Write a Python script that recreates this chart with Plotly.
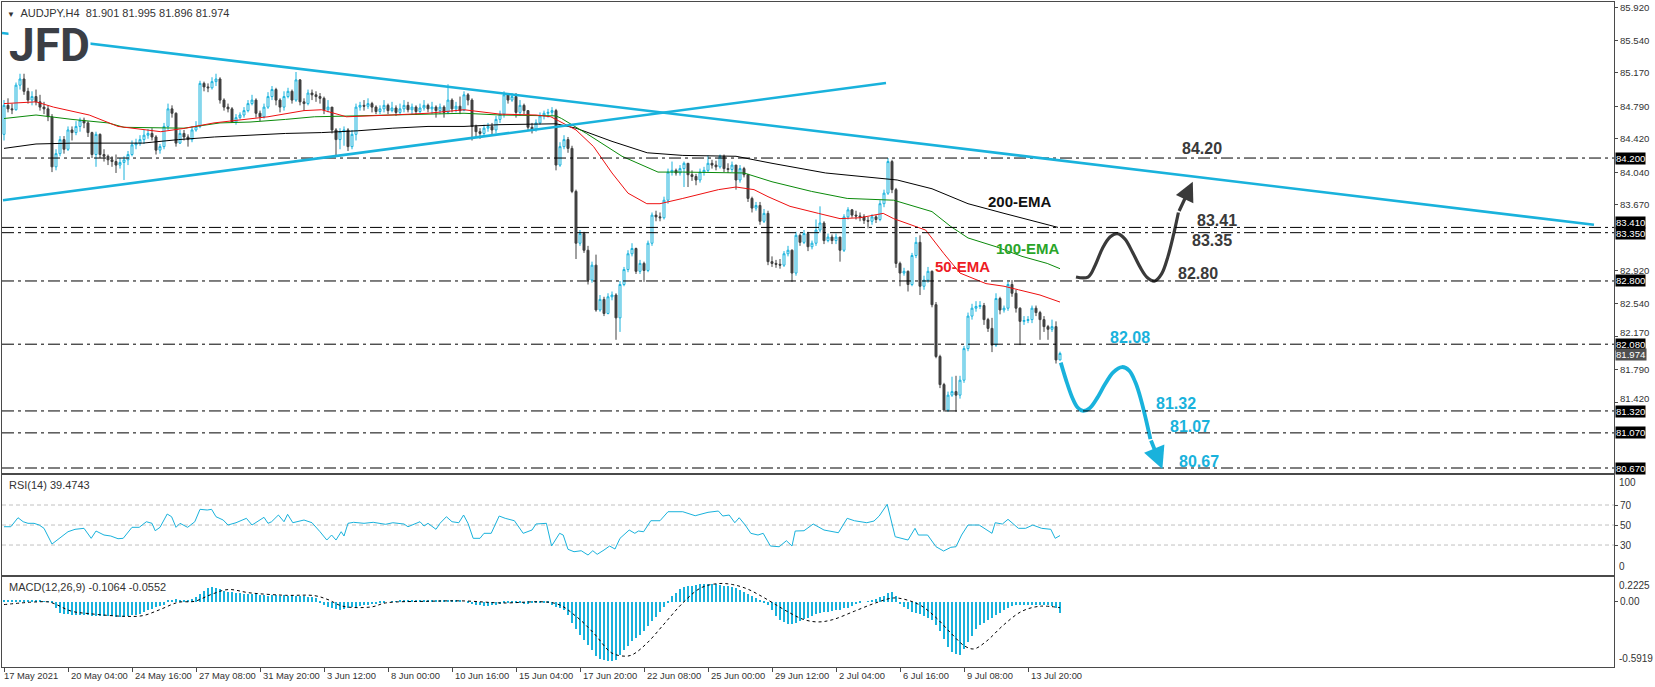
import plotly.graph_objects as go

# ---------------- data ----------------
first_open = 84.47
close = [
 84.80, 84.76, 84.75, 85.03, 85.10, 84.96, 84.86, 84.90, 84.84, 84.78,
 84.76, 84.67, 84.10, 84.25, 84.41, 84.30, 84.52, 84.49, 84.56, 84.63,
 84.60, 84.49, 84.24, 84.47, 84.24, 84.22, 84.18, 84.16, 84.12, 84.15,
 84.18, 84.24, 84.35, 84.37, 84.41, 84.46, 84.48, 84.44, 84.29, 84.33,
 84.56, 84.76, 84.71, 84.37, 84.48, 84.44, 84.41, 84.52, 84.56, 85.05,
 85.01, 85.00, 85.07, 85.10, 84.86, 84.78, 84.76, 84.61, 84.66, 84.69,
 84.74, 84.82, 84.86, 84.71, 84.67, 84.78, 84.90, 84.98, 84.86, 84.78,
 84.90, 84.96, 84.86, 85.09, 84.84, 84.82, 84.94, 84.92, 84.90, 84.88,
 84.75, 84.78, 84.52, 84.41, 84.50, 84.52, 84.33, 84.47, 84.78, 84.80,
 84.79, 84.82, 84.78, 84.73, 84.76, 84.80, 84.74, 84.77, 84.72, 84.76,
 84.80, 84.75, 84.78, 84.73, 84.77, 84.80, 84.76, 84.78, 84.74, 84.78,
 84.72, 84.86, 84.76, 84.79, 84.74, 84.92, 84.86, 84.56, 84.50, 84.48,
 84.54, 84.56, 84.52, 84.64, 84.70, 84.92, 84.86, 84.90, 84.72, 84.80,
 84.74, 84.55, 84.53, 84.60, 84.68, 84.71, 84.72, 84.74, 84.12, 84.33,
 84.41, 84.31, 83.82, 83.23, 83.34, 83.15, 82.81, 82.98, 82.47, 82.59,
 82.43, 82.62, 82.64, 82.38, 82.76, 82.93, 83.11, 83.17, 82.91, 83.00,
 82.92, 83.23, 83.55, 83.53, 83.52, 83.72, 84.04, 84.06, 84.03, 84.08,
 84.14, 84.01, 83.99, 83.95, 84.04, 84.06, 84.14, 84.12, 84.10, 84.22,
 84.08, 84.07, 84.12, 83.95, 84.08, 84.01, 83.74, 83.63, 83.66, 83.48,
 83.57, 83.02, 83.00, 82.99, 82.98, 83.11, 83.15, 82.89, 83.32, 83.24,
 83.34, 83.19, 83.23, 83.38, 83.46, 83.26, 83.30, 83.26, 83.30, 83.15,
 83.53, 83.61, 83.55, 83.54, 83.53, 83.49, 83.48, 83.53, 83.50, 83.68,
 83.80, 84.16, 83.84, 83.00, 82.89, 82.91, 82.76, 83.09, 83.24, 82.74,
 82.81, 82.91, 82.53, 81.94, 81.62, 81.33, 81.50, 81.54, 81.50, 81.67,
 82.03, 82.40, 82.49, 82.51, 82.52, 82.36, 82.26, 82.07, 82.60, 82.47,
 82.49, 82.76, 82.66, 82.49, 82.34, 82.35, 82.36, 82.49, 82.44, 82.36,
 82.28, 82.25, 82.28, 81.901, 81.974]
high = [
 84.86, 84.88, 84.82, 85.06, 85.16, 85.16, 85.00, 84.96, 84.98, 84.92,
 84.84, 84.80, 84.70, 84.30, 84.45, 84.45, 84.56, 84.56, 84.62, 84.66,
 84.66, 84.62, 84.50, 84.50, 84.48, 84.30, 84.24, 84.22, 84.24, 84.20,
 84.22, 84.28, 84.40, 84.42, 84.46, 84.52, 84.53, 84.54, 84.46, 84.36,
 84.60, 84.82, 84.80, 84.72, 84.52, 84.52, 84.47, 84.56, 84.62, 85.08,
 85.07, 85.05, 85.12, 85.16, 85.12, 84.88, 84.82, 84.78, 84.70, 84.72,
 84.78, 84.86, 84.92, 84.88, 84.74, 84.82, 84.95, 85.02, 85.00, 84.88,
 84.96, 85.00, 84.98, 85.18, 85.10, 84.88, 84.98, 84.98, 84.96, 84.94,
 84.90, 84.86, 84.78, 84.54, 84.54, 84.56, 84.54, 84.52, 84.82, 84.84,
 84.86, 84.88, 84.84, 84.80, 84.80, 84.86, 84.82, 84.84, 84.80, 84.82,
 84.86, 84.84, 84.82, 84.80, 84.82, 84.86, 84.82, 84.84, 84.80, 84.82,
 84.80, 85.04, 84.88, 84.84, 84.90, 84.96, 84.94, 84.88, 84.58, 84.54,
 84.58, 84.60, 84.60, 84.68, 84.74, 84.96, 84.94, 84.94, 84.94, 84.86,
 84.82, 84.74, 84.60, 84.64, 84.72, 84.74, 84.76, 84.78, 84.76, 84.38,
 84.46, 84.44, 84.34, 83.84, 83.38, 83.36, 83.20, 83.02, 83.10, 82.64,
 82.62, 82.66, 82.68, 82.66, 82.80, 82.96, 83.15, 83.23, 83.18, 83.04,
 83.02, 83.26, 83.58, 83.60, 83.58, 83.76, 84.08, 84.16, 84.08, 84.12,
 84.16, 84.12, 84.06, 84.02, 84.08, 84.10, 84.23, 84.18, 84.17, 84.24,
 84.24, 84.14, 84.16, 84.12, 84.12, 84.10, 84.02, 83.76, 83.70, 83.70,
 83.62, 83.60, 83.08, 83.04, 83.05, 83.14, 83.20, 83.16, 83.36, 83.34,
 83.38, 83.36, 83.26, 83.50, 83.65, 83.48, 83.34, 83.33, 83.34, 83.30,
 83.56, 83.64, 83.62, 83.60, 83.58, 83.56, 83.53, 83.56, 83.55, 83.72,
 83.84, 84.20, 84.18, 83.86, 83.02, 82.95, 82.92, 83.12, 83.30, 83.32,
 82.86, 82.96, 82.92, 82.56, 81.96, 81.64, 81.54, 81.71, 81.72, 81.72,
 82.06, 82.44, 82.54, 82.57, 82.57, 82.55, 82.38, 82.38, 82.66, 82.62,
 82.52, 82.79, 82.81, 82.70, 82.50, 82.40, 82.40, 82.52, 82.52, 82.46,
 82.40, 82.30, 82.36, 82.34, 81.995]
low = [
 84.40, 84.72, 84.70, 84.74, 84.98, 84.92, 84.82, 84.80, 84.80, 84.74,
 84.70, 84.62, 84.04, 84.06, 84.22, 84.25, 84.28, 84.40, 84.46, 84.50,
 84.54, 84.44, 84.20, 84.10, 84.20, 84.16, 84.12, 84.10, 84.03, 84.08,
 83.95, 84.12, 84.22, 84.30, 84.34, 84.36, 84.42, 84.40, 84.24, 84.25,
 84.30, 84.52, 84.66, 84.33, 84.36, 84.40, 84.33, 84.38, 84.50, 84.54,
 84.96, 84.95, 84.98, 85.02, 84.82, 84.74, 84.72, 84.60, 84.58, 84.64,
 84.66, 84.72, 84.80, 84.66, 84.62, 84.65, 84.76, 84.86, 84.80, 84.72,
 84.74, 84.88, 84.82, 84.84, 84.80, 84.74, 84.80, 84.86, 84.84, 84.82,
 84.70, 84.72, 84.48, 84.22, 84.30, 84.34, 84.28, 84.30, 84.40, 84.74,
 84.74, 84.76, 84.72, 84.70, 84.70, 84.72, 84.70, 84.72, 84.68, 84.70,
 84.72, 84.72, 84.70, 84.69, 84.71, 84.74, 84.72, 84.70, 84.66, 84.70,
 84.66, 84.70, 84.72, 84.72, 84.70, 84.74, 84.80, 84.40, 84.44, 84.42,
 84.44, 84.50, 84.46, 84.48, 84.60, 84.66, 84.82, 84.84, 84.66, 84.68,
 84.70, 84.52, 84.48, 84.50, 84.58, 84.64, 84.66, 84.68, 84.06, 84.10,
 84.30, 84.26, 83.80, 83.05, 83.20, 83.12, 82.76, 82.78, 82.45, 82.45,
 82.40, 82.42, 82.58, 82.13, 82.22, 82.74, 82.90, 83.08, 82.88, 82.88,
 82.79, 82.90, 83.20, 83.48, 83.48, 83.50, 83.68, 84.00, 84.00, 84.00,
 83.87, 83.87, 83.94, 83.89, 83.92, 84.00, 84.04, 84.08, 84.06, 84.08,
 84.04, 84.03, 84.04, 83.84, 83.92, 83.98, 83.70, 83.58, 83.60, 83.44,
 83.46, 82.98, 82.96, 82.95, 82.94, 82.96, 83.08, 82.79, 82.86, 83.20,
 83.22, 83.14, 83.16, 83.20, 83.35, 83.22, 83.24, 83.22, 83.22, 83.02,
 83.13, 83.50, 83.52, 83.50, 83.48, 83.45, 83.40, 83.44, 83.46, 83.48,
 83.64, 83.78, 83.80, 82.95, 82.74, 82.86, 82.68, 82.74, 83.06, 82.64,
 82.70, 82.78, 82.50, 81.92, 81.58, 81.31, 81.31, 81.48, 81.31, 81.46,
 81.64, 82.00, 82.36, 82.45, 82.48, 82.30, 82.22, 81.99, 82.05, 82.42,
 82.44, 82.46, 82.62, 82.44, 82.07, 82.30, 82.32, 82.32, 82.40, 82.13,
 82.22, 82.13, 82.22, 81.86, 81.896]

ema50_x = [0, 8, 12.4, 21.3, 28.5, 39.2, 45.4, 52.5, 66, 75, 79.4, 85.6, 97, 106, 115, 124, 133,
           136.7, 143, 147.4, 152, 156, 160.7, 164, 169.7, 178.6, 183, 187.5, 191, 196.5, 203.6,
           209, 214, 219.8, 222.4, 227.8, 230.4, 235, 239, 245.5, 250, 253.6, 259, 264]
ema50_y = [84.82, 84.84, 84.78, 84.69, 84.56, 84.50, 84.54, 84.60, 84.67, 84.74, 84.75, 84.67, 84.69,
           84.71, 84.75, 84.70, 84.69, 84.67, 84.52, 84.33, 84.03, 83.80, 83.68, 83.68, 83.74, 83.84,
           83.87, 83.84, 83.76, 83.65, 83.57, 83.51, 83.52, 83.57, 83.51, 83.42, 83.38, 83.11, 82.89,
           82.77, 82.74, 82.70, 82.64, 82.56]
ema100_x = [0, 8, 17, 26, 30, 39, 45, 54, 61.5, 70.4, 77.6, 88, 106, 115, 124, 138, 139.4, 145.6,
            154.5, 163.5, 169.7, 185, 192, 201.9, 210.8, 222.4, 232, 236.7, 241, 248, 254.5, 260.8, 264]
ema100_y = [84.65, 84.69, 84.64, 84.60, 84.55, 84.54, 84.54, 84.60, 84.61, 84.64, 84.67, 84.68, 84.70,
            84.71, 84.69, 84.68, 84.65, 84.48, 84.22, 84.04, 84.04, 84.03, 83.93, 83.82, 83.74, 83.72,
            83.59, 83.42, 83.29, 83.19, 83.08, 83.00, 82.94]
ema200_x = [0, 8, 17, 26, 34.7, 43.6, 52.6, 70.4, 79.4, 88.3, 97.2, 106, 115, 124, 138, 143, 152,
            160.8, 169.7, 183, 192, 205.4, 218.8, 223.3, 232, 241, 250, 263.5]
ema200_y = [84.31, 84.36, 84.37, 84.37, 84.37, 84.41, 84.44, 84.48, 84.49, 84.51, 84.54, 84.56, 84.56,
            84.58, 84.59, 84.54, 84.39, 84.26, 84.23, 84.22, 84.14, 84.03, 83.97, 83.95, 83.85, 83.68,
            83.57, 83.41]

rsi_x = [0, 1.7, 3.5, 4.8, 6, 7.5, 8.8, 10, 12, 13.3,
         14.6, 16, 17.75, 20, 21.8, 23, 25, 26.7, 28.5, 29.8,
         32, 33.8, 35.6, 37, 37.8, 39, 40.8, 41.9, 43, 44,
         45.9, 47.7, 49, 50.8, 51.9, 53, 54.8, 56, 58, 60.6,
         62, 63.3, 65, 66, 66.9, 68.6, 70, 70.9, 72.2, 75,
         77, 79, 80.7, 81.9, 83, 84.3, 85, 86, 87.4, 90,
         92.3, 95.4, 97.2, 100, 101, 104, 105, 106, 108, 109,
         110.6, 112, 113.7, 114.9, 116, 117.3, 119, 120, 121.8, 123.8,
         125.3, 127.6, 129.8, 132, 133, 135.6, 136.9, 138.9, 139.8, 141,
         142.5, 144.3, 146, 147.2, 148.3, 150, 151.4, 152.75, 154, 156.3,
         157.7, 158.6, 159.9, 161.7, 164, 166, 169.7, 172.8, 176, 178.6,
         179.7, 181.3, 182.7, 183.8, 185.3, 186.7, 188.5, 189.8, 191.6, 193.8,
         195.6, 197, 197.8, 200, 202.3, 205, 208.6, 210.8, 212.6, 215.7,
         217.5, 218.8, 220.8, 222.8, 226, 227.75, 228.6, 230.9, 233, 234.9,
         236.7, 238, 239.4, 241, 243.8, 247, 247.8, 249.6, 251, 253.6,
         255.4, 257.2, 259.4, 261.7, 262.8, 264]
rsi_y = [48.3, 48.3, 57.3, 53.3, 51.7, 51.7, 50, 46.7, 31, 35,
         38.3, 43.3, 45.7, 46.7, 36.7, 44, 40, 39, 36.3, 36.7,
         47.7, 47.7, 53.3, 51.7, 44.3, 47.7, 61, 58.3, 47.7, 51.7,
         47.7, 53.3, 65.7, 65, 65.7, 58.3, 55, 50, 52.3, 56.7,
         50, 53.3, 57.7, 51.7, 53.3, 60, 53.3, 60.7, 52.3, 55,
         52.3, 43.3, 35, 40, 35, 43.3, 39, 51.7, 52.7, 51.7,
         52.7, 50.7, 52.3, 51, 48.3, 53.3, 49, 51.7, 45.7, 51.7,
         58.3, 53.3, 52.3, 60, 51.7, 36.7, 36.7, 41.7, 41.7, 59,
         56.7, 54.3, 41.7, 45, 51, 51.7, 29, 41.7, 40, 25.7,
         23.3, 24.3, 20, 24.3, 20.7, 25, 29, 26, 36.7, 45,
         41.7, 44, 43.3, 54.3, 54.3, 63.3, 63.3, 59.3, 62.7, 64,
         59, 60, 52.3, 57.3, 50, 41.7, 40, 41.7, 29, 28.3,
         34.3, 29, 44, 44.3, 51, 45, 42.3, 56.7, 54.3, 52.3,
         54, 59, 70.7, 38.3, 35, 46.7, 40, 40, 28.3, 24,
         27.7, 28.3, 40, 50, 50, 41.7, 52.3, 51, 55.7, 46.7,
         46.7, 50, 46.7, 45.7, 36.7, 39.47]

macd_hist = [
 0.008, 0.010, 0.012, 0.014, 0.016, 0.015, 0.014, 0.012, 0.010, 0.008, 0.005, 0.002, -0.005,
 -0.06, -0.10, -0.11, -0.115, -0.12, -0.12, -0.125, -0.12, -0.125, -0.13, -0.13, -0.13, -0.13, -0.13,
 -0.133, -0.135, -0.135, -0.135, -0.13, -0.125, -0.12, -0.11, -0.095, -0.08, -0.065, -0.05, -0.04, -0.035,
 0.01, 0.015, 0.02, 0.015, 0.012, 0.015, 0.02,
 0.04, 0.07, 0.10, 0.12, 0.13, 0.125,
 0.11, 0.10, 0.09, 0.085, 0.08, 0.075, 0.07, 0.07, 0.065, 0.065, 0.06, 0.06, 0.055, 0.06, 0.06,
 0.055, 0.06, 0.055, 0.06, 0.055, 0.05, 0.05, 0.045, 0.04, 0.035,
 -0.01, -0.03, -0.05, -0.06, -0.07, -0.075, -0.07, -0.06, -0.05, -0.045, -0.04, -0.035, -0.03, -0.025, -0.02,
 -0.01, -0.005, 0.0, 0.005, 0.005, 0.01, 0.01, 0.008, 0.01, 0.012, 0.01, 0.008, 0.01, 0.012, 0.015,
 0.012, 0.015, 0.018, 0.015, 0.012, 0.008, 0.0, -0.01, -0.02, -0.03,
 -0.035, -0.04, -0.04, -0.035, -0.03, -0.02, -0.015, -0.01, -0.01, -0.012, -0.015, -0.02, -0.018, -0.015, -0.012,
 -0.01, -0.012, -0.015, -0.03, -0.045, -0.06, -0.075,
 -0.12, -0.19, -0.25, -0.30, -0.35, -0.39, -0.44, -0.49, -0.52, -0.53, -0.535, -0.54, -0.525, -0.48,
 -0.44, -0.40, -0.36, -0.33, -0.30, -0.27, -0.22, -0.18, -0.14, -0.09, -0.05, -0.005,
 0.05, 0.08, 0.11, 0.135, 0.14, 0.145, 0.15, 0.155, 0.16, 0.163, 0.16, 0.155, 0.15, 0.145, 0.14,
 0.13, 0.12, 0.105, 0.085, 0.07, 0.05, 0.03, 0.012,
 -0.005, -0.03, -0.08, -0.13, -0.165, -0.185, -0.2, -0.2, -0.19, -0.175, -0.16, -0.145, -0.13, -0.115,
 -0.105, -0.097, -0.09, -0.087, -0.08, -0.072, -0.062, -0.055, -0.04, -0.025,
 -0.01, 0.0, 0.005, 0.012, 0.025, 0.04, 0.055, 0.075, 0.085, 0.05,
 -0.02, -0.045, -0.07, -0.09, -0.1, -0.11, -0.13, -0.145, -0.165, -0.21, -0.27, -0.34, -0.41, -0.46,
 -0.475, -0.48, -0.43, -0.37, -0.31, -0.25, -0.21, -0.19, -0.17, -0.15, -0.125, -0.1, -0.075, -0.055,
 -0.04, -0.03, -0.027, -0.028, -0.03, -0.027, -0.03, -0.032, -0.034, -0.035, -0.038, -0.06, -0.1064]

signal_x = [0, 8, 11.5, 16.9, 21.3, 30, 34.7, 39, 43.6, 47.7, 51.7, 56, 61.5, 70.4, 77.6, 81, 84.7,
            91.9, 95.4, 106, 115, 124, 138, 143, 147.4, 151.9, 155.4, 157.2, 160.8, 165.25, 169.7,
            174.2, 178.6, 182.2, 185.8, 189.4, 192.9, 196.5, 200, 203.6, 207.2, 212.6, 217.9, 222.4,
            226, 229.5, 233.1, 236.7, 240.25, 242.5, 245.6, 250, 254.5, 259, 264]
signal_y = [-0.027, -0.003, -0.006, -0.087, -0.109, -0.133, -0.127, -0.072, -0.006, 0.003, 0.063,
            0.109, 0.079, 0.057, 0.054, 0.018, -0.042, -0.048, -0.012, 0.003, 0.006, -0.012, -0.018,
            -0.133, -0.284, -0.464, -0.494, -0.479, -0.374, -0.193, -0.012, 0.124, 0.163, 0.154,
            0.115, 0.048, -0.027, -0.103, -0.163, -0.184, -0.163, -0.087, -0.012, 0.033, 0.012,
            -0.042, -0.148, -0.284, -0.404, -0.428, -0.359, -0.208, -0.087, -0.042, -0.0552]

# drawn trendlines (bar index, price)
desc_line_x = [-0.5, 397.5]
desc_line_y = [85.624, 83.44]
asc_line_x = [-0.25, 220.5]
asc_line_y = [83.72, 85.054]

levels = [84.20, 83.41, 83.35, 82.80, 82.08, 81.32, 81.07, 80.67]
last_price = 81.974
price_ticks = [85.92, 85.54, 85.17, 84.79, 84.42, 84.04, 83.67, 82.92, 82.54, 82.17, 81.79, 81.42]

# projected paths
up_path_x = [268, 271, 272.8, 274.6, 276.5, 278.3, 280.2, 282.1, 284, 285.8, 287.7, 289.4, 291, 292.4, 293.6]
up_path_y = [82.845, 82.845, 82.98, 83.17, 83.30, 83.34, 83.28, 83.13, 82.96, 82.84, 82.80, 82.88, 83.08, 83.33, 83.58]
up_tip = (297.2, 83.93)
down_path_x = [264.2, 265.6, 267.0, 268.4, 269.8, 271.4, 273.2, 275.2, 277.3, 279.5, 281.3, 282.9, 284.3, 285.5, 286.6]
down_path_y = [81.87, 81.66, 81.48, 81.36, 81.32, 81.35, 81.46, 81.62, 81.76, 81.82, 81.78, 81.64, 81.44, 81.22, 81.00]
down_tip = (289.6, 80.66)

date_ticks = [0, 16, 32, 48, 64, 80, 96, 112, 128, 144, 160, 176, 192, 208, 224, 240, 256]
date_labels = ['17 May 2021', '20 May 04:00', '24 May 16:00', '27 May 08:00', '31 May 20:00',
               '3 Jun 12:00', '8 Jun 00:00', '10 Jun 16:00', '15 Jun 04:00', '17 Jun 20:00',
               '22 Jun 08:00', '25 Jun 00:00', '29 Jun 12:00', '2 Jul 04:00', '6 Jul 16:00',
               '9 Jul 08:00', '13 Jul 20:00']

# ---------------- styling ----------------
CYAN = '#19b2dc'
DARK = '#404040'
BORDER = '#4a4a4a'
TXT = '#333333'
FONT = 'Liberation Sans'

bars = list(range(len(close)))
opens = [first_open] + close[:-1]

fig = go.Figure()

fig.add_trace(go.Scatter(x=ema200_x, y=ema200_y, mode='lines', line=dict(color='#000000', width=1),
                         xaxis='x', yaxis='y', hoverinfo='skip', showlegend=False))
fig.add_trace(go.Scatter(x=ema100_x, y=ema100_y, mode='lines', line=dict(color='#0a8a0a', width=1),
                         xaxis='x', yaxis='y', hoverinfo='skip', showlegend=False))
fig.add_trace(go.Scatter(x=ema50_x, y=ema50_y, mode='lines', line=dict(color='#ee1010', width=1),
                         xaxis='x', yaxis='y', hoverinfo='skip', showlegend=False))

fig.add_trace(go.Candlestick(
    x=bars, open=opens, high=high, low=low, close=close,
    increasing=dict(line=dict(color=CYAN, width=1), fillcolor='white'),
    decreasing=dict(line=dict(color=DARK, width=1), fillcolor=DARK),
    whiskerwidth=0, xaxis='x', yaxis='y', hoverinfo='skip', showlegend=False))

# projected waves
fig.add_trace(go.Scatter(x=up_path_x, y=up_path_y, mode='lines',
                         line=dict(color='#3a3a3a', width=3.2, shape='spline'),
                         xaxis='x', yaxis='y', hoverinfo='skip', showlegend=False))
fig.add_trace(go.Scatter(x=down_path_x, y=down_path_y, mode='lines',
                         line=dict(color=CYAN, width=3.8, shape='spline'),
                         xaxis='x', yaxis='y', hoverinfo='skip', showlegend=False))

# RSI
fig.add_trace(go.Scatter(x=rsi_x, y=rsi_y, mode='lines', line=dict(color=CYAN, width=1),
                         xaxis='x2', yaxis='y2', hoverinfo='skip', showlegend=False))
# MACD
fig.add_trace(go.Bar(x=bars, y=macd_hist, width=0.5, marker=dict(color=CYAN, line=dict(width=0)),
                     xaxis='x3', yaxis='y3', hoverinfo='skip', showlegend=False))
fig.add_trace(go.Scatter(x=signal_x, y=signal_y, mode='lines',
                         line=dict(color='#000000', width=1, dash='dot', shape='spline'),
                         xaxis='x3', yaxis='y3', hoverinfo='skip', showlegend=False))

shapes = []
for lv in levels:
    shapes.append(dict(type='line', xref='x domain', x0=0, x1=1, yref='y', y0=lv, y1=lv,
                       line=dict(color='#000000', width=1, dash='12px,4px,3px,4px'), layer='above'))
shapes.append(dict(type='line', xref='x', yref='y', x0=desc_line_x[0], x1=desc_line_x[1],
                   y0=desc_line_y[0], y1=desc_line_y[1], line=dict(color=CYAN, width=2.6)))
shapes.append(dict(type='line', xref='x', yref='y', x0=asc_line_x[0], x1=asc_line_x[1],
                   y0=asc_line_y[0], y1=asc_line_y[1], line=dict(color=CYAN, width=2.6)))
for lv in [70, 50, 30]:
    shapes.append(dict(type='line', xref='x2 domain', x0=0, x1=1, yref='y2', y0=lv, y1=lv,
                       line=dict(color='#c0c0c0', width=1, dash='4px,3px'), layer='below'))

ann = []
# title + logo
ann.append(dict(xref='paper', yref='paper', x=0, y=1, xanchor='left', yanchor='top', xshift=3, yshift=-3,
                text='<span style="font-size:8px">▼</span>  AUDJPY,H4  81.901 81.995 81.896 81.974',
                showarrow=False, font=dict(family=FONT, size=11, color=TXT)))
ann.append(dict(xref='paper', yref='paper', x=0, y=1, xanchor='left', yanchor='top', xshift=6, yshift=-15,
                text='<b>JFD</b>', showarrow=False, bgcolor='white', borderpad=0,
                font=dict(family='Roboto', size=46, color='#3b3e45')))
# right-axis price labels (nudged where they sit next to a level box)
tick_nudge = {82.17: 4, 81.42: 4}
for v in price_ticks:
    ann.append(dict(xref='paper', x=1, xanchor='left', xshift=4, yref='y', y=v, yanchor='middle',
                    yshift=tick_nudge.get(v, 0), text='%.3f' % v, showarrow=False,
                    font=dict(family=FONT, size=9.6, color=TXT)))
# right axis level boxes (small shifts keep the stacked boxes from covering each other)
box_shift = {84.20: 0, 83.41: 5, 83.35: -1, 82.80: 0, 82.08: 0, 81.32: -1, 81.07: 0, 80.67: 0}
for lv in levels:
    ann.append(dict(xref='paper', x=1, xanchor='left', xshift=1, yref='y', y=lv, yanchor='middle',
                    yshift=box_shift[lv], text='%.3f' % lv, showarrow=False, bgcolor='#000000',
                    borderpad=0, font=dict(family=FONT, size=9.6, color='white')))
ann.append(dict(xref='paper', x=1, xanchor='left', xshift=1, yref='y', y=last_price, yanchor='middle',
                yshift=-1, text='%.3f' % last_price, showarrow=False, bgcolor='#505050', borderpad=0,
                font=dict(family=FONT, size=9.6, color='white')))
# level text labels
dark_lbl = {84.20: (299.5, 84.31), 83.41: (303.3, 83.494), 83.35: (302, 83.266), 82.80: (298.5, 82.89)}
cyan_lbl = {82.08: (281.5, 82.16), 81.32: (293, 81.41), 81.07: (296.5, 81.14), 80.67: (298.8, 80.74)}
for lv, (bx, by) in dark_lbl.items():
    ann.append(dict(xref='x', yref='y', x=bx, y=by, text='<b>%.2f</b>' % lv, showarrow=False,
                    font=dict(family=FONT, size=16, color='#3a3a3a')))
for lv, (bx, by) in cyan_lbl.items():
    ann.append(dict(xref='x', yref='y', x=bx, y=by, text='<b>%.2f</b>' % lv, showarrow=False,
                    font=dict(family=FONT, size=16, color=CYAN)))
# EMA labels
ann.append(dict(xref='x', yref='y', x=254, y=83.70, text='<b>200-EMA</b>', showarrow=False,
                font=dict(family=FONT, size=15, color='#111111')))
ann.append(dict(xref='x', yref='y', x=256, y=83.175, text='<b>100-EMA</b>', showarrow=False,
                font=dict(family=FONT, size=15, color='#2aa52a')))
ann.append(dict(xref='x', yref='y', x=239.5, y=82.97, text='<b>50-EMA</b>', showarrow=False,
                font=dict(family=FONT, size=15, color='#ee1c24')))
# arrow heads
ann.append(dict(xref='x', yref='y', axref='x', ayref='y', x=up_tip[0], y=up_tip[1],
                ax=up_path_x[-1], ay=up_path_y[-1], showarrow=True, arrowhead=2, arrowsize=1.2,
                arrowwidth=3.2, arrowcolor='#3a3a3a', text=''))
ann.append(dict(xref='x', yref='y', axref='x', ayref='y', x=down_tip[0], y=down_tip[1],
                ax=down_path_x[-1], ay=down_path_y[-1], showarrow=True, arrowhead=2, arrowsize=1.15,
                arrowwidth=3.8, arrowcolor=CYAN, text=''))
# sub-panel labels
ann.append(dict(xref='paper', yref='paper', x=0, y=0.2887, xanchor='left', yanchor='top', xshift=5, yshift=-2,
                text='RSI(14) 39.4743', showarrow=False, font=dict(family=FONT, size=11, color=TXT)))
ann.append(dict(xref='paper', yref='paper', x=0, y=0.1353, xanchor='left', yanchor='top', xshift=5, yshift=-2,
                text='MACD(12,26,9) -0.1064 -0.0552', showarrow=False, font=dict(family=FONT, size=11, color=TXT)))
ann.append(dict(xref='paper', x=1, xanchor='left', xshift=3, yref='y2', y=100, yanchor='top',
                text='100', showarrow=False, font=dict(family=FONT, size=10, color=TXT)))
ann.append(dict(xref='paper', x=1, xanchor='left', xshift=3, yref='y2', y=0, yanchor='bottom', yshift=1,
                text='0', showarrow=False, font=dict(family=FONT, size=10, color=TXT)))
ann.append(dict(xref='paper', x=1, xanchor='left', xshift=3, yref='y3', y=0.2225, yanchor='top', yshift=-1,
                text='0.2225', showarrow=False, font=dict(family=FONT, size=10, color=TXT)))
ann.append(dict(xref='paper', x=1, xanchor='left', xshift=3, yref='y3', y=-0.5919, yanchor='bottom', yshift=1,
                text='-0.5919', showarrow=False, font=dict(family=FONT, size=10, color=TXT)))
# date labels
for t, lab in zip(date_ticks, date_labels):
    ann.append(dict(xref='x3', yref='paper', x=t, y=0, xanchor='left', yanchor='top',
                    xshift=(-2 if t == date_ticks[0] else 1), yshift=-1,
                    text=lab, showarrow=False, font=dict(family=FONT, size=9.4, color=TXT)))

XR = [-0.5, 402.5]
common_x = dict(range=XR, showgrid=False, zeroline=False, showline=True, mirror=True,
                linecolor=BORDER, linewidth=1, fixedrange=True)
fig.update_layout(
    width=1655, height=687, margin=dict(l=2, r=41, t=2, b=20),
    paper_bgcolor='white', plot_bgcolor='white', showlegend=False, bargap=0,
    xaxis=dict(**common_x, anchor='y', showticklabels=False, ticks='', rangeslider=dict(visible=False)),
    xaxis2=dict(**common_x, anchor='y2', matches='x', showticklabels=False, ticks=''),
    xaxis3=dict(**common_x, anchor='y3', matches='x', showticklabels=False, ticks='outside',
                tickvals=date_ticks, ticklen=4, tickcolor=BORDER),
    yaxis=dict(domain=[0.2917, 1.0], range=[80.613, 85.977], side='right', showgrid=False, zeroline=False,
               showline=True, mirror=True, linecolor=BORDER, tickvals=price_ticks, showticklabels=False,
               ticks='outside', ticklen=3, tickcolor=BORDER, fixedrange=True),
    yaxis2=dict(domain=[0.1383, 0.2887], range=[0, 100], side='right', showgrid=False, zeroline=False,
                showline=True, mirror=True, linecolor=BORDER, tickvals=[70, 50, 30], ticks='outside',
                ticklen=3, tickcolor=BORDER, tickfont=dict(family=FONT, size=10, color=TXT), fixedrange=True),
    yaxis3=dict(domain=[0.0, 0.1353], range=[-0.5919, 0.2225], side='right', showgrid=False, zeroline=False,
                showline=True, mirror=True, linecolor=BORDER, tickvals=[0], ticktext=['0.00'], ticks='outside',
                ticklen=3, tickcolor=BORDER, tickfont=dict(family=FONT, size=10, color=TXT), fixedrange=True),
    shapes=shapes, annotations=ann,
)

fig.write_html('out.html')
